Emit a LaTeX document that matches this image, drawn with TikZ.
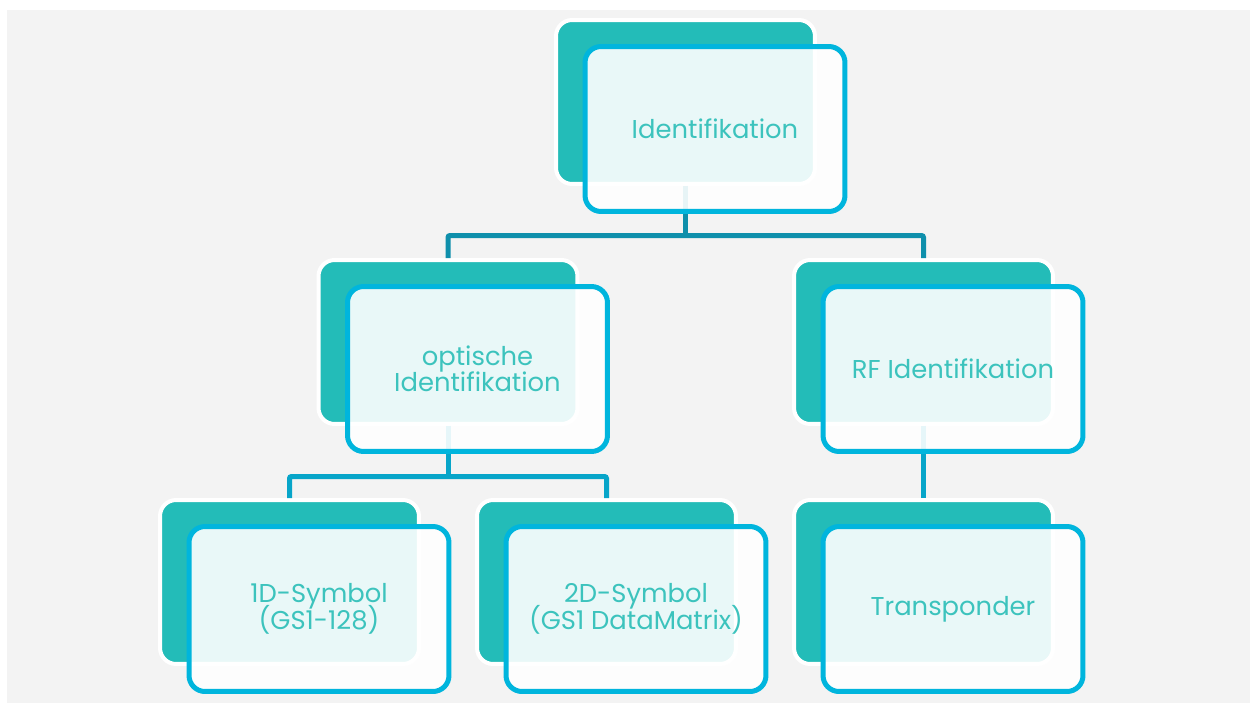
\documentclass[tikz,border=0pt]{standalone}
\usepackage{fontspec}
\setmainfont{Poppins}
\usetikzlibrary{calc}

\definecolor{bggray}{HTML}{F3F3F3}
\definecolor{boxteal}{HTML}{23BCB8}
\definecolor{boxcyan}{HTML}{00B5DD}
\definecolor{txtteal}{HTML}{3CC3BD}
\definecolor{linkdark}{HTML}{0E8FAB}
\definecolor{linklight}{HTML}{07A5C9}

\newcommand\cardfont{\fontsize{14.7}{15}\selectfont\setlength{\lineskiplimit}{-20pt}}

\tikzset{
  backbox/.style={rectangle, rounded corners=0.32cm, fill=boxteal, draw=white,
    line width=0.08cm, minimum width=5.18cm, minimum height=3.28cm, inner sep=0pt},
  frontbox/.style={rectangle, rounded corners=0.32cm, fill=white, fill opacity=0.9,
    text opacity=1, draw=boxcyan, draw opacity=1, line width=0.1cm,
    minimum width=5.2cm, minimum height=3.3cm, inner sep=0pt, align=center,
    text=txtteal, font=\cardfont},
  link/.style={line width=0.1cm, rounded corners=0.04cm},
}

\begin{document}
\begin{tikzpicture}[x=0.02cm, y=-0.02cm]
   \def\dx{29.5};   % offset of the front card
   \def\dy{27};
   \fill[white] (0,0) rectangle (1250,703);
   \fill[bggray] (7,10) rectangle (1250,703);
   % back cards
   \node[backbox] (identB) at (685.5,102) {};
   \node[backbox] (optB)   at (448,342) {};
   \node[backbox] (rfB)    at (923.5,342) {};
   \node[backbox] (symAB)  at (289.5,582) {};
   \node[backbox] (symBB)  at (606.5,582) {};
   \node[backbox] (transB) at (923.5,582) {};
   % tree lines
   \coordinate (identJ) at (685.5,235.5);
   \coordinate (optJ) at (448,476.5);
   \draw[link, linkdark] (identB.south) -- (identJ);
   \draw[link, linkdark] (optB.north) |- (identJ) -| (rfB.north);
   \draw[link, linklight] (optB.south) -- (optJ);
   \draw[link, linklight] (symAB.north) |- (optJ) -| (symBB.north);
   \draw[link, linklight] (rfB.south) -- (transB.north);
   % front cards
   \node[frontbox] (ident) at ($(identB)+(\dx,\dy)$) {Identifikation};
   \node[frontbox] (opt)   at ($(optB)+(\dx,\dy)$) {optische\\Identifikation};
   \node[frontbox] (rf)    at ($(rfB)+(\dx,\dy)$) {RF Identifikation};
   \node[frontbox] (symA)  at ($(symAB)+(\dx,\dy)$) {1D-Symbol\\(GS1-128)};
   \node[frontbox] (symB)  at ($(symBB)+(\dx,\dy)$) {2D-Symbol\\(GS1 DataMatrix)};
   \node[frontbox] (trans) at ($(transB)+(\dx,\dy)$) {Transponder};
\end{tikzpicture}
\end{document}
